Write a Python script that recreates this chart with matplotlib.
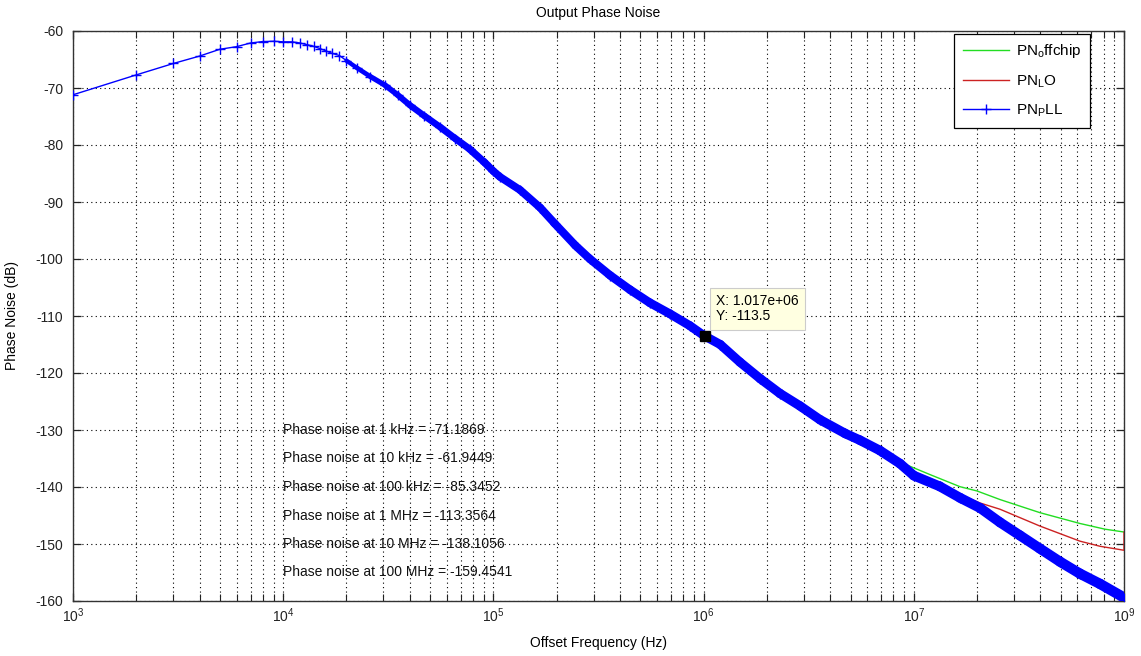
import matplotlib
matplotlib.use('Agg')
import matplotlib.pyplot as plt
from matplotlib.collections import LineCollection
from matplotlib.ticker import NullLocator, LogLocator
import numpy as np

# ---------------- data ----------------
pll_freq = [1e3, 2e3, 3e3, 4e3, 5e3, 6e3, 7e3, 8e3, 9e3, 1e4,
            1.1e4, 1.2e4, 1.3e4, 1.4e4, 1.5e4, 1.6e4, 1.7e4, 1.85e4, 2.0e4, 2.25e4,
            2.6e4, 3.05e4, 3.5e4, 4.0e4, 4.7e4, 5.6e4, 6.6e4, 7.7e4, 9.1e4, 1.0e5,
            1.075e5, 1.34e5, 1.67e5, 1.96e5, 2.45e5, 2.88e5, 3.6e5, 4.47e5, 5.56e5, 6.9e5,
            8.6e5, 1.0e6, 1.2e6, 1.49e6, 1.86e6, 2.31e6, 2.88e6, 3.58e6, 4.71e6, 5.55e6,
            6.9e6, 8.6e6, 1.0e7, 1.33e7, 1.66e7, 2.07e7, 2.57e7, 3.2e7, 3.98e7, 4.96e7,
            6.17e7, 7.69e7, 1.0e8]
pll_pn = [-71.19, -67.7, -65.7, -64.4, -63.2, -62.75, -62.1, -61.85, -61.8, -61.9,
          -61.9, -62.1, -62.4, -62.7, -63.1, -63.5, -63.9, -64.3, -65.2, -66.5,
          -68.0, -69.5, -71.2, -73.0, -74.9, -76.9, -78.9, -80.7, -83.1, -84.6,
          -85.6, -87.9, -91.0, -93.8, -97.6, -100.0, -102.9, -105.4, -107.7, -109.6,
          -111.7, -113.4, -115.0, -118.1, -121.0, -123.6, -125.8, -128.2, -130.6, -131.8,
          -133.6, -135.9, -138.0, -139.9, -141.9, -143.7, -146.2, -148.5, -150.8, -153.1,
          -155.2, -157.0, -159.4]

offchip_freq = [5.55e6, 6.9e6, 9.08e6, 1.19e7, 1.66e7, 2.0e7, 2.57e7, 3.98e7, 6.17e7, 8.12e7, 1.0e8]
offchip_pn = [-131.6, -133.4, -136.0, -137.8, -139.95, -140.7, -142.2, -144.5, -146.4, -147.4, -147.9]

lo_freq = [5.55e6, 6.9e6, 1.0e7, 1.33e7, 1.57e7, 2.065e7, 2.57e7, 3.98e7, 6.17e7, 7.69e7, 1.0e8, 1.0e8]
lo_pn = [-131.6, -133.4, -137.6, -139.3, -141.0, -142.8, -143.9, -146.85, -149.5, -150.4, -151.1, -147.9]

tip_x, tip_y = 1.017e6, -113.5

note_freqs = ['1 kHz', '10 kHz', '100 kHz', '1 MHz', '10 MHz', '100 MHz']
note_vals = ['-71.1869', '-61.9449', '-85.3452', '-113.3564', '-138.1056', '-159.4541']

xtick_vals = [1e3, 1e4, 1e5, 1e6, 1e7, 1e8]
xtick_labels = ['$10^{3}$', '$10^{4}$', '$10^{5}$', '$10^{6}$', '$10^{7}$', '$10^{9}$']
ytick_vals = list(range(-160, -59, 10))

# ---------------- style ----------------
plt.rcParams['font.family'] = ['Liberation Sans', 'DejaVu Sans']
plt.rcParams['mathtext.fontset'] = 'custom'
plt.rcParams['mathtext.rm'] = 'Liberation Sans'
plt.rcParams['mathtext.it'] = 'Liberation Sans'
plt.rcParams['mathtext.bf'] = 'Liberation Sans'
plt.rcParams['axes.unicode_minus'] = False

W, H = 1141, 656
fig = plt.figure(figsize=(W / 100, H / 100), dpi=100)
fig.patch.set_facecolor('white')
L, R, T, B = 73, 1124, 31, 601
ax = fig.add_axes([L / W, 1 - B / H, (R - L) / W, (B - T) / H])

ax.set_xscale('log')
ax.set_xlim(1e3, 1e8)
ax.set_ylim(-160, -60)

green = '#22dd22'
red = '#cc2222'
blue = '#0000ff'

ax.plot(offchip_freq, offchip_pn, color=green, lw=1.0, label=r'PN$_{\mathrm{o}}$ffchip', zorder=3)
ax.plot(lo_freq, lo_pn, color=red, lw=1.0, label=r'PN$_{\mathrm{L}}$O', zorder=3)
ax.plot(pll_freq, pll_pn, color=blue, lw=1.0, marker='+', markersize=7, markeredgewidth=1.0,
        label=r'PN$_{\mathrm{P}}$LL', zorder=4)

# thick band where the markers overlap densely
f = np.array(pll_freq)
p = np.array(pll_pn)
sel = f >= 2.0e4
fs, ps = f[sel], p[sel]
segs = [np.column_stack([fs[i:i + 2], ps[i:i + 2]]) for i in range(len(fs) - 1)]
mid = np.log10(np.sqrt(fs[:-1] * fs[1:]))
widths = np.interp(mid, [4.3, 4.6, 5.0, 6.0, 8.0], [3.0, 4.5, 5.5, 6.5, 7.5])
lc = LineCollection(segs, linewidths=widths, colors=blue, capstyle='round', joinstyle='round', zorder=4)
ax.add_collection(lc)

# grid
ax.xaxis.set_minor_locator(LogLocator(base=10, subs=np.arange(2, 10)))
ax.yaxis.set_minor_locator(NullLocator())
ax.set_xticks(xtick_vals)
ax.set_xticklabels(xtick_labels)
ax.set_yticks(ytick_vals)
ax.grid(True, which='major', axis='both', linestyle=(0, (1, 3)), color='k', lw=0.8)
ax.grid(True, which='minor', axis='x', linestyle=(0, (1, 3)), color='k', lw=0.8)
ax.set_axisbelow(True)

ax.tick_params(which='both', direction='in', top=True, right=True, labelsize=10, colors='#222222')
ax.tick_params(which='major', length=5.5, width=0.9)
ax.tick_params(which='minor', length=5, width=0.8)
ax.tick_params(axis='y', pad=7)
ax.tick_params(axis='x', pad=4)
for s in ax.spines.values():
    s.set_color('#333333')
    s.set_linewidth(1.0)

ax.set_title('Output Phase Noise', fontsize=10, pad=10)
ax.set_xlabel('Offset Frequency (Hz)', fontsize=10, labelpad=8)
ax.set_ylabel('Phase Noise (dB)', fontsize=10, labelpad=12)

# annotations
for i, (nf, nv) in enumerate(zip(note_freqs, note_vals)):
    ax.text(1e4, -130 - 5 * i, f'Phase noise at {nf} = {nv}', fontsize=10,
            ha='left', va='center', color='#111111', zorder=5)

# data tip
ax.plot([tip_x], [tip_y], marker='s', markersize=7, color='black', zorder=6)
ax.annotate(f'X: {tip_x:.3e}\nY: {tip_y}', xy=(tip_x, tip_y), xytext=(8, 9),
            textcoords='offset points', fontsize=10, ha='left', va='bottom', linespacing=1.15,
            bbox=dict(boxstyle='square,pad=0.45', facecolor='#ffffe1', edgecolor='#cccccc', lw=0.8),
            zorder=7)

leg = ax.legend(loc='upper right', bbox_to_anchor=((1090 - L) / (R - L), (B - 34) / (B - T)),
                fontsize=11, frameon=True, fancybox=False, edgecolor='black', framealpha=1,
                handlelength=3.0, borderpad=0.55, labelspacing=0.85, handletextpad=0.5,
                borderaxespad=0)
leg.get_frame().set_linewidth(0.9)

fig.savefig('out.png', dpi=100, facecolor='white')
